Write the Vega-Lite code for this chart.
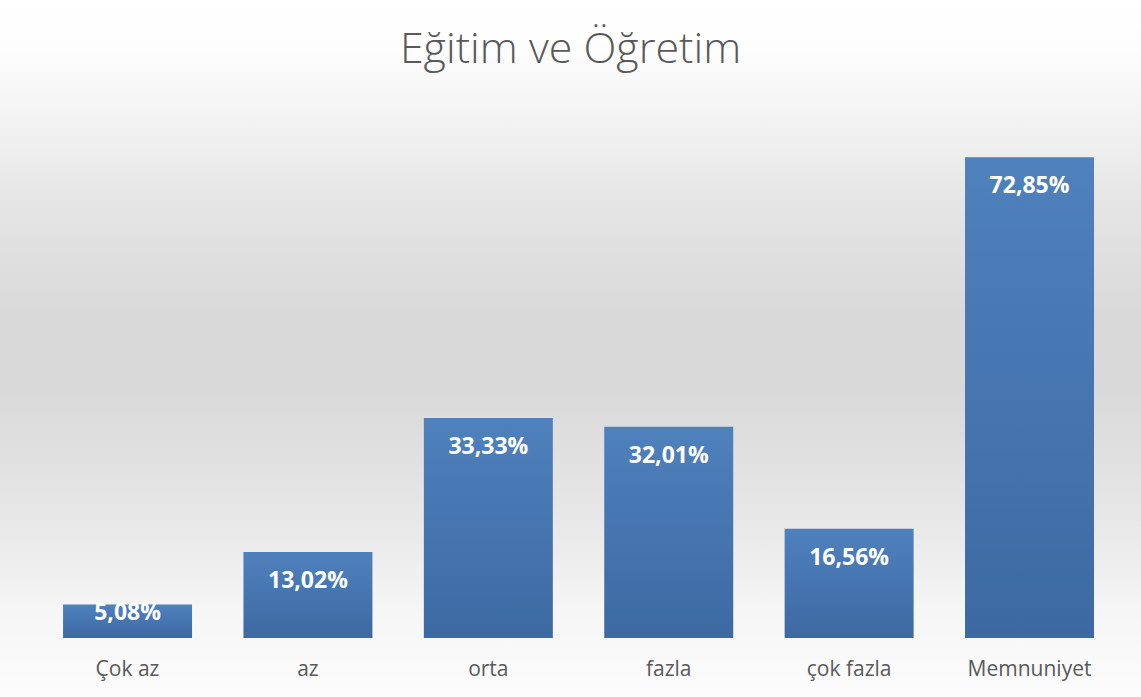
{
  "$schema": "https://vega.github.io/schema/vega-lite/v6.json",
  "width": 1141,
  "height": 697,
  "autosize": {"type": "none"},
  "padding": 0,
  "background": "#ffffff",
  "config": {"view": {"stroke": null}},
  "title": {
    "text": "Eğitim ve Öğretim",
    "font": "Open Sans",
    "fontSize": 43,
    "fontWeight": 300,
    "color": "#595959",
    "anchor": "middle",
    "frame": "group",
    "baseline": "alphabetic",
    "offset": -106
  },
  "data": {
    "values": [
      {"kategori": "Çok az", "deger": 5.08, "etiket": "5,08%"},
      {"kategori": "az", "deger": 13.02, "etiket": "13,02%"},
      {"kategori": "orta", "deger": 33.33, "etiket": "33,33%"},
      {"kategori": "fazla", "deger": 32.01, "etiket": "32,01%"},
      {"kategori": "çok fazla", "deger": 16.56, "etiket": "16,56%"},
      {"kategori": "Memnuniyet", "deger": 72.85, "etiket": "72,85%"}
    ]
  },
  "layer": [
    {
      "data": {"values": [{"bg": 1}]},
      "mark": {
        "type": "rect",
        "fill": {
          "gradient": "linear",
          "x1": 0, "y1": 0, "x2": 0, "y2": 1,
          "stops": [
            {"offset": 0, "color": "#ffffff"},
            {"offset": 0.07, "color": "#fdfdfd"},
            {"offset": 0.2, "color": "#f0f0f0"},
            {"offset": 0.28, "color": "#e6e6e6"},
            {"offset": 0.45, "color": "#d9d9d9"},
            {"offset": 0.56, "color": "#d9d9d9"},
            {"offset": 0.75, "color": "#e8e8e8"},
            {"offset": 0.88, "color": "#f6f6f6"},
            {"offset": 1, "color": "#fcfcfc"}
          ]
        }
      },
      "encoding": {}
    },
    {
      "mark": {
        "type": "bar",
        "fill": {
          "gradient": "linear",
          "x1": 0, "y1": 0, "x2": 0, "y2": 1,
          "stops": [
            {"offset": 0, "color": "#4f81bd"},
            {"offset": 1, "color": "#3c69a2"}
          ]
        }
      },
      "encoding": {
        "x": {
          "field": "kategori",
          "type": "nominal",
          "sort": null,
          "scale": {"paddingInner": 0.285, "paddingOuter": 0.305, "align": 0.573},
          "axis": {
            "title": null,
            "orient": "bottom",
            "offset": -59,
            "zindex": 1,
            "domain": false,
            "ticks": false,
            "tickSize": 0,
            "labelAngle": 0,
            "labelFont": "Open Sans",
            "labelFontSize": 21,
            "labelColor": "#595959",
            "labelBaseline": "alphabetic",
            "labelPadding": 37
          }
        },
        "y": {
          "field": "deger",
          "type": "quantitative",
          "scale": {"domain": [-8.94, 96.67], "zero": false, "nice": false},
          "axis": null
        }
      }
    },
    {
      "mark": {
        "type": "text",
        "font": "Open Sans",
        "fontSize": 23,
        "fontWeight": "bold",
        "color": "#ffffff",
        "baseline": "middle",
        "dy": {"expr": "datum.deger < 10 ? 9 : 29"}
      },
      "encoding": {
        "x": {"field": "kategori", "type": "nominal", "sort": null},
        "y": {"field": "deger", "type": "quantitative"},
        "text": {"field": "etiket"}
      }
    }
  ]
}
